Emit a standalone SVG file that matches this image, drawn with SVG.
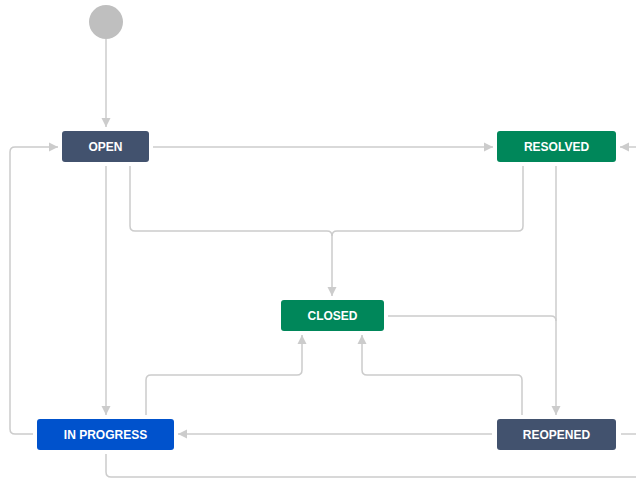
<svg xmlns="http://www.w3.org/2000/svg" width="636" height="479" viewBox="0 0 636 479">
  <style>
    .c { fill: none; stroke: #cccccc; stroke-width: 1.5; }
    .a { marker-end: url(#arr); }
    .n text { font-family: "Liberation Sans", Arial, sans-serif; font-weight: bold; font-size: 12px; fill: #ffffff; text-anchor: middle; dominant-baseline: central; }
    .dark { fill: #42526E; }
    .green { fill: #00875A; }
    .blue { fill: #0052CC; }
  </style>
  <defs>
    <marker id="arr" markerUnits="userSpaceOnUse" markerWidth="10" markerHeight="10" refX="9" refY="5" orient="auto">
      <path d="M0,0.5 L9,5 L0,9.5 z" fill="#cccccc"/>
    </marker>
  </defs>
  <rect width="636" height="479" fill="#ffffff"/>
  <g id="connectors">
    <path class="c a" d="M106,39 V127"/>
    <path class="c a" d="M153,147 H493"/>
    <path class="c a" d="M636,147 H620"/>
    <path class="c a" d="M33,434 H15 Q10,434 10,429 V152 Q10,147 15,147 H58"/>
    <path class="c a" d="M130,166 V226 Q130,231 135,231 H327 Q332,231 332,236 V296"/>
    <path class="c" d="M523,166 V226 Q523,231 518,231 H337 Q332,231 332,236"/>
    <path class="c a" d="M556,166 V415"/>
    <path class="c" d="M388,316 H551 Q556,316 556,321"/>
    <path class="c a" d="M106,166 V415"/>
    <path class="c a" d="M146,415 V380 Q146,375 151,375 H297 Q302,375 302,370 V335"/>
    <path class="c a" d="M522,415 V380 Q522,375 517,375 H367 Q362,375 362,370 V335"/>
    <path class="c a" d="M492,434 H178"/>
    <path class="c" d="M621,434 H636"/>
    <path class="c" d="M106,454 V472 Q106,477 111,477 H636"/>
  </g>
  <g id="start">
    <circle cx="106" cy="22" r="17" fill="#bfbfbf"/>
  </g>
  <g id="open" class="n">
    <rect x="62" y="131" width="87" height="31" rx="3" class="dark"/>
    <text x="105.5" y="147">OPEN</text>
  </g>
  <g id="resolved" class="n">
    <rect x="497" y="131" width="119" height="31" rx="3" class="green"/>
    <text x="556.5" y="147">RESOLVED</text>
  </g>
  <g id="closed" class="n">
    <rect x="281" y="300" width="103" height="31" rx="3" class="green"/>
    <text x="332.5" y="316">CLOSED</text>
  </g>
  <g id="inprogress" class="n">
    <rect x="37" y="419" width="137" height="31" rx="3" class="blue"/>
    <text x="105.5" y="435">IN PROGRESS</text>
  </g>
  <g id="reopened" class="n">
    <rect x="497" y="419" width="119" height="31" rx="3" class="dark"/>
    <text x="556.5" y="435">REOPENED</text>
  </g>
</svg>
